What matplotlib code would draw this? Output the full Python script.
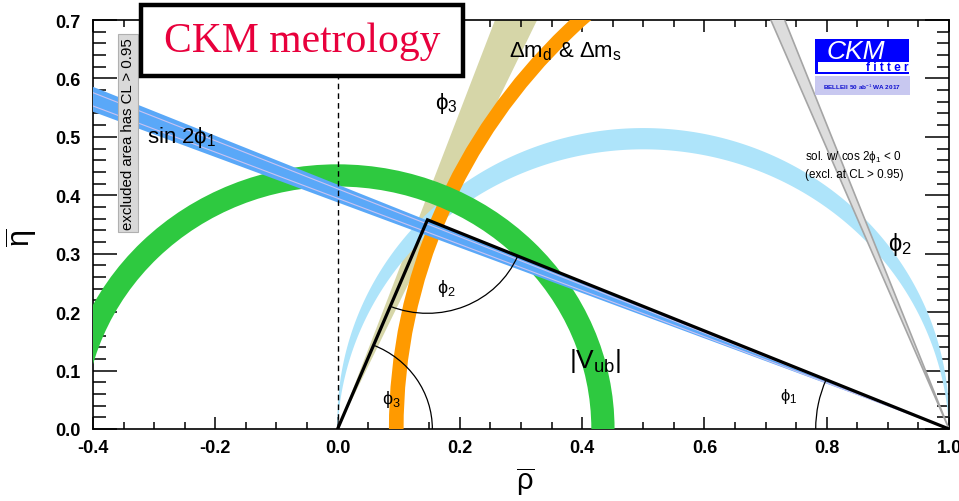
import numpy as np
import matplotlib
matplotlib.use('Agg')
import matplotlib.pyplot as plt
from matplotlib import patches
from matplotlib.ticker import MultipleLocator

plt.rcParams['font.family'] = ['Liberation Sans', 'DejaVu Sans']
plt.rcParams['mathtext.fontset'] = 'custom'
plt.rcParams['mathtext.rm'] = 'Liberation Sans'
plt.rcParams['mathtext.it'] = 'Liberation Sans:italic'
plt.rcParams['mathtext.bf'] = 'Liberation Sans:bold'

# apex of the unitarity triangle (rho-bar, eta-bar)
apex = (0.147, 0.358)

# constraint bands
vub_r = (0.415, 0.453)              # |Vub| ring around (0, 0)
dm_centre = 1.06
dm_r = (0.952, 0.976)               # dm_d & dm_s ring
phi3_deg = (65.0, 69.8)             # phi3 wedge from (0, 0)
phi2_deg = (88.3, 92.5)             # phi2, angle seen from the apex
sin2phi1_deg = (21.2, 22.7)         # sin 2phi1 wedge from (1, 0)
sin2phi1_inner_deg = (21.55, 22.35)
cos_neg_deg = (67.4, 69.0)          # second solution, cos 2phi1 < 0
arc_r = {'phi3': 0.155, 'phi2': 0.16, 'phi1': 0.218}

xticks = [-0.4, -0.2, 0.0, 0.2, 0.4, 0.6, 0.8, 1.0]
xticklabels = ['-0.4', '-0.2', '0.0', '0.2', '0.4', '0.6', '0.8', '1.0']
yticks = [0.0, 0.1, 0.2, 0.3, 0.4, 0.5, 0.6, 0.7]
yticklabels = ['0.0', '0.1', '0.2', '0.3', '0.4', '0.5', '0.6', '0.7']

beige = '#d6d6a8'
lightblue = '#aee4fa'
orange = '#ff9a00'
green = '#2ec940'
blue = '#5aa8f8'
lavender = '#c9c3f2'

W, H = 959, 502


def px(x, y):
    # pixel position -> figure fraction
    return x / W, 1 - y / H


def base_circle(alpha, n=400):
    # points seeing the segment (0,0)-(1,0) under the angle alpha
    a = np.radians(alpha)
    c = 0.5 / np.tan(a)
    r = 0.5 / np.sin(a)
    t0 = np.arctan2(-c, 0.5)
    t = np.linspace(t0, np.pi - t0, n)
    return 0.5 + r * np.cos(t), c + r * np.sin(t)


fig = plt.figure(figsize=(W / 100, H / 100), dpi=100)
ax = fig.add_axes([93 / W, 72 / H, 856 / W, 409 / H])
ax.set_xlim(-0.4, 1.0)
ax.set_ylim(0.0, 0.7)

# bands
ax.add_patch(patches.Wedge((0, 0), 1.0, phi3_deg[0], phi3_deg[1],
                           facecolor=beige, lw=0, zorder=1))
xo, yo = base_circle(phi2_deg[0])
xi, yi = base_circle(phi2_deg[1])
ax.fill(np.r_[xo, xi[::-1]], np.r_[yo, yi[::-1]], color=lightblue, lw=0, zorder=2)
ax.add_patch(patches.Wedge((dm_centre, 0), dm_r[1], 90, 180,
                           width=dm_r[1] - dm_r[0], facecolor=orange, lw=0, zorder=3))
ax.add_patch(patches.Wedge((0, 0), vub_r[1], 0, 180,
                           width=vub_r[1] - vub_r[0], facecolor=green, lw=0, zorder=4))
ax.add_patch(patches.Wedge((1, 0), 1.0, 180 - cos_neg_deg[1], 180 - cos_neg_deg[0],
                           facecolor='#dddddd', edgecolor='#a5a5a5', lw=1.2, zorder=5))
ax.add_patch(patches.Wedge((1, 0), 1.7, 180 - sin2phi1_deg[1], 180 - sin2phi1_deg[0],
                           facecolor=blue, lw=0, zorder=6))
for a in sin2phi1_inner_deg:
    ax.plot([1.0, -0.4], [0.0, 1.4 * np.tan(np.radians(a))], color=lavender, lw=0.8, zorder=7)

# rho = 0
ax.plot([0, 0], [0, 0.7], color='k', lw=1.0, dashes=(4, 3), zorder=8)

# unitarity triangle
ax.plot([0, apex[0], 1], [0, apex[1], 0], color='k', lw=2.3, zorder=9,
        solid_joinstyle='miter')
ang_left = np.degrees(np.arctan2(apex[1], apex[0]))
ang_right = np.degrees(np.arctan2(apex[1], 1 - apex[0]))
d = 2 * arc_r['phi3']
ax.add_patch(patches.Arc((0, 0), d, d, theta1=0, theta2=ang_left, color='k', lw=0.9, zorder=9))
d = 2 * arc_r['phi1']
ax.add_patch(patches.Arc((1, 0), d, d, theta1=180 - ang_right, theta2=180, color='k', lw=0.9, zorder=9))
d = 2 * arc_r['phi2']
ax.add_patch(patches.Arc(apex, d, d, theta1=180 + ang_left, theta2=360 - ang_right,
                         color='k', lw=0.9, zorder=9))

# labels on the plot
ax.text(-0.311, 0.50, 'sin 2ϕ$_1$', fontsize=16, va='center', zorder=10)
ax.text(0.281, 0.648, r'Δm$_\mathrm{d}$ & Δm$_\mathrm{s}$', fontsize=16, va='center', zorder=10)
ax.text(0.160, 0.558, 'ϕ$_3$', fontsize=16, va='center', zorder=10)
ax.text(0.163, 0.242, 'ϕ$_2$', fontsize=13, va='center', zorder=10)
ax.text(0.073, 0.052, 'ϕ$_3$', fontsize=13, va='center', zorder=10)
ax.text(0.378, 0.118, r'|V$_\mathrm{ub}$|', fontsize=19, va='center', zorder=10)
ax.text(0.724, 0.058, 'ϕ$_1$', fontsize=12, va='center', zorder=10)
ax.text(0.900, 0.318, 'ϕ$_2$', fontsize=17, va='center', zorder=10)
ax.text(0.765, 0.468, 'sol. w/ cos 2ϕ$_1$ < 0', fontsize=8.4, va='center', zorder=10)
ax.text(0.765, 0.437, '(excl. at CL > 0.95)', fontsize=8.4, va='center', zorder=10)

# axes styling
ax.set_xticks(xticks)
ax.set_xticklabels(xticklabels, fontsize=13, fontweight='bold')
ax.set_yticks(yticks)
ax.set_yticklabels(yticklabels, fontsize=13, fontweight='bold')
ax.xaxis.set_minor_locator(MultipleLocator(0.05))
ax.yaxis.set_minor_locator(MultipleLocator(0.02))
ax.tick_params(which='both', direction='in', top=True, right=True, width=1.1)
ax.tick_params(axis='x', which='major', length=8.6, pad=7)
ax.tick_params(axis='x', which='minor', length=5)
ax.tick_params(axis='y', which='major', length=17.5, pad=9)
ax.tick_params(axis='y', which='minor', length=9)
for s in ax.spines.values():
    s.set_linewidth(1.2)

ax.set_xlabel(r'$\overline{\mathrm{\rho}}$', fontsize=21)
ax.xaxis.set_label_coords(0.505, -0.088)
ax.set_ylabel(r'$\overline{\mathrm{\eta}}$', fontsize=22)
ax.yaxis.set_label_coords(-0.062, 0.47)

# side note on the left
x, y = px(128, 134)
fig.text(x, y, 'excluded area has CL > 0.95', rotation=90, fontsize=10.8,
         ha='center', va='center',
         bbox=dict(boxstyle='square,pad=0.2', fc='#d9d9d9', ec='#b0b0b0', lw=0.8))

# CKMfitter logo
def fig_rect(x0, y0, x1, y1, **kw):
    fx0, fy1 = px(x0, y0)
    fx1, fy0 = px(x1, y1)
    fig.add_artist(patches.Rectangle((fx0, fy0), fx1 - fx0, fy1 - fy0,
                                     transform=fig.transFigure, **kw))

fig_rect(815, 40, 909, 75, facecolor='#0000ff', lw=0)
fig_rect(818, 63, 909, 73, facecolor='white', lw=0)
fig_rect(815, 77, 910, 96, facecolor='#c8c8f0', lw=0)
x, y = px(856, 52)
fig.text(x, y, 'CKM', color='white', fontsize=19, style='italic', ha='center', va='center')
x, y = px(887, 68)
fig.text(x, y, 'f i t t e r', color='#0000ff', fontsize=8.5, fontweight='bold',
         ha='center', va='center')
x, y = px(862, 87)
fig.text(x, y, 'BELLEII 50 ab$^{-1}$ WA 2017', color='#1010d0', fontsize=4.6,
         fontweight='bold', ha='center', va='center')

# title box
fig_rect(141, 6, 463, 77, facecolor='white', edgecolor='black', lw=3.2, zorder=20)
x, y = px(302, 42)
fig.text(x, y, 'CKM metrology', family='Liberation Serif', fontsize=30,
         color='#e8003c', ha='center', va='center', zorder=21)

fig.savefig('out.png', dpi=100)
